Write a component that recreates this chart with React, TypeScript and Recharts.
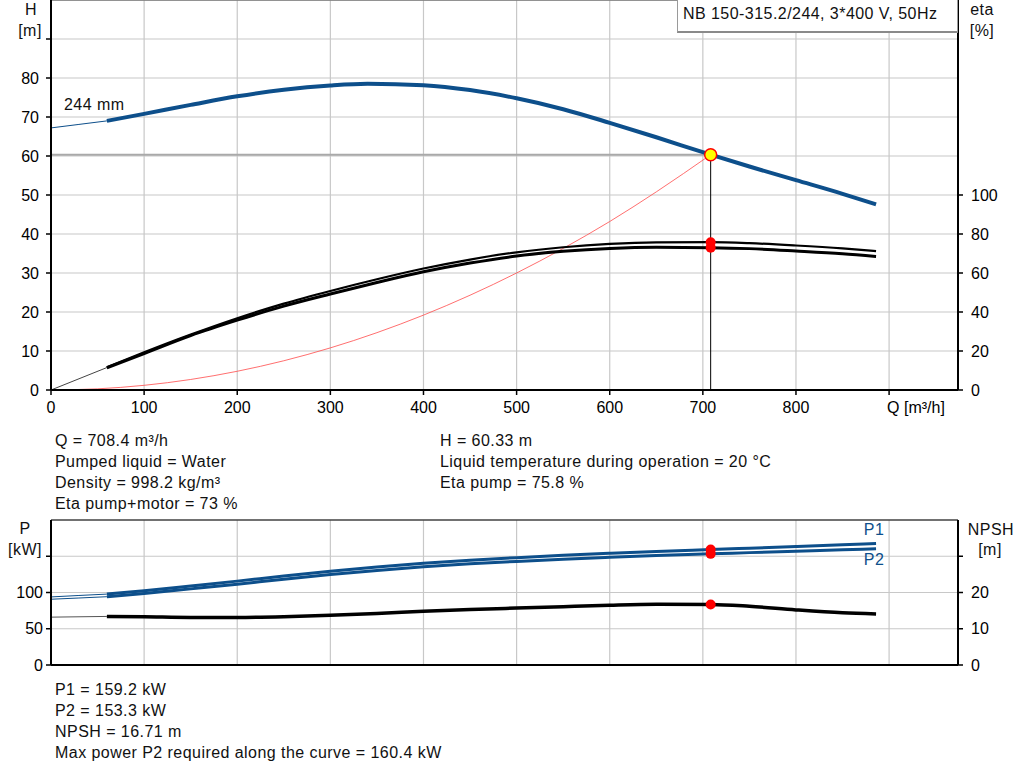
import React from "react";
import {
  ComposedChart,
  Line,
  XAxis,
  YAxis,
  CartesianGrid,
  ReferenceLine,
  ReferenceDot,
} from "recharts";

const FONT = '"Liberation Sans", Arial, sans-serif';
const FS = 16;
const LS = "0.45px";
const BLUE = "#0d4f8b";
const GRID = "#c8c8c8";

// axis ticks
const Q_MAX = 974;
const Q_TICKS = [0, 100, 200, 300, 400, 500, 600, 700, 800, 900];
const H_TICKS = [0, 10, 20, 30, 40, 50, 60, 70, 80, 90];
const ETA_TICKS = [0, 20, 40, 60, 80, 100];
const P_TICKS = [0, 50, 100, 150];
const NPSH_TICKS = [0, 10, 20, 30];

// operating point
const Q_OP = 708.4;
const H_OP = 60.33;
const ETA_PUMP_OP = 75.8;
const ETA_TOTAL_OP = 73;
const P1_OP = 159.2;
const P2_OP = 153.3;
const NPSH_OP = 16.71;

// head curve (thin start + main part)
const Q_H_START = [0, 30, 60];
const H_START = [67.2, 68.1, 69.0];
const Q_H = [60, 100, 150, 200, 250, 300, 340, 400, 450, 500, 550, 600, 650, 708.4, 750, 800, 850, 886];
const H_VALUES = [69.0, 70.8, 73.1, 75.3, 77.0, 78.1, 78.55, 78.15, 76.9, 74.8, 72.0, 68.5, 64.8, 60.33, 57.3, 53.8, 50.3, 47.6];

// system curve
const Q_SYS = [0, 50, 100, 150, 200, 250, 300, 350, 400, 450, 500, 550, 600, 650, 708.4];
const H_SYS = [0, 0.3, 1.2, 2.7, 4.8, 7.5, 10.8, 14.7, 19.2, 24.3, 30.0, 36.3, 43.2, 50.8, 60.33];

// efficiency curves
const Q_ETA_START = [0, 60];
const ETA_START = [0, 11.5];
const Q_ETA = [60, 100, 150, 200, 250, 300, 350, 400, 450, 500, 550, 600, 650, 708.4, 750, 800, 850, 886];
const ETA_PUMP = [11.6, 19.3, 28.4, 36.8, 44.3, 50.8, 56.8, 62.3, 66.9, 70.6, 73.2, 74.9, 75.7, 75.8, 75.3, 74.1, 72.6, 71.2];
const ETA_TOTAL = [11.4, 18.7, 27.9, 35.8, 43.0, 49.2, 55.1, 60.6, 65.1, 68.7, 71.1, 72.6, 73.2, 73.0, 72.5, 71.3, 69.9, 68.5];

// power curves
const Q_P_START = [0, 30, 60];
const P1_START = [93.9, 95.9, 97.8];
const P2_START = [90.7, 92.4, 94.2];
const Q_P = [60, 100, 150, 200, 250, 300, 350, 400, 450, 500, 550, 600, 650, 708.4, 750, 800, 850, 886];
const P1_VALUES = [97.8, 102.4, 109.0, 115.7, 122.7, 129.3, 135.2, 140.3, 144.5, 148.1, 151.3, 154.1, 156.7, 159.2, 161.1, 163.4, 165.7, 167.5];
const P2_VALUES = [94.2, 98.6, 105.0, 111.5, 118.3, 124.7, 130.4, 135.4, 139.5, 142.9, 146.0, 148.6, 151.0, 153.3, 155.0, 157.0, 158.9, 160.4];

// NPSH curve
const Q_NPSH_START = [0, 60];
const NPSH_START = [13.2, 13.4];
const Q_NPSH = [60, 100, 150, 200, 250, 300, 350, 400, 450, 500, 550, 600, 650, 708.4, 750, 800, 850, 886];
const NPSH_VALUES = [13.4, 13.3, 13.1, 13.1, 13.3, 13.7, 14.2, 14.8, 15.3, 15.7, 16.1, 16.5, 16.75, 16.71, 16.2, 15.2, 14.4, 14.1];

const zip = (xs: number[], ys: number[]) => xs.map((x, i) => ({ x, y: ys[i] }));

const makeYTick = (anchor: "start" | "end", hidden: number[]) => (props: any) => {
  const { x, y, payload } = props;
  if (hidden.includes(payload.value)) return <g />;
  return (
    <text x={x} y={y} dy="0.355em" textAnchor={anchor} fontSize={FS} fontFamily={FONT} fill="#000">
      {payload.value}
    </text>
  );
};

const QTick = (props: any) => {
  const { x, y, payload } = props;
  const last = payload.value === 900;
  return (
    <text
      x={last ? x - 2 : x}
      y={y}
      dy="0.71em"
      textAnchor={last ? "start" : "middle"}
      fontSize={FS}
      fontFamily={FONT}
      fill="#000"
    >
      {last ? "Q [m³/h]" : payload.value}
    </text>
  );
};

const NoTick = () => <g />;

const axisLine = { stroke: "#000", strokeWidth: 2 };
const tickLine = { stroke: "#000", strokeWidth: 1.5 };

const Txt = ({ x, y, children, center, color }: any) => (
  <div
    style={{
      position: "absolute",
      left: x,
      top: y - 9,
      lineHeight: "18px",
      fontSize: FS,
      letterSpacing: LS,
      fontFamily: FONT,
      color: color || "#111",
      whiteSpace: "nowrap",
      transform: center ? "translateX(-50%)" : undefined,
    }}
  >
    {children}
  </div>
);

const HeadChart = () => (
  <ComposedChart width={1024} height={420} margin={{ top: 0, right: 0, bottom: 0, left: 0 }}>
    <CartesianGrid xAxisId="q" yAxisId="h" stroke={GRID} strokeWidth={1.2} />
    <XAxis
      xAxisId="q"
      type="number"
      dataKey="x"
      domain={[0, Q_MAX]}
      ticks={Q_TICKS}
      interval={0}
      height={30}
      stroke="#000"
      axisLine={axisLine}
      tickLine={tickLine}
      tickSize={5}
      tickMargin={7}
      tick={QTick}
    />
    <YAxis
      yAxisId="h"
      type="number"
      domain={[0, 100]}
      ticks={H_TICKS}
      interval={0}
      width={51}
      stroke="#000"
      axisLine={axisLine}
      tickLine={tickLine}
      tickSize={5}
      tickMargin={7}
      tick={makeYTick("end", [90])}
    />
    <YAxis
      yAxisId="eta"
      orientation="right"
      type="number"
      domain={[0, 200]}
      ticks={ETA_TICKS}
      interval={0}
      width={66}
      stroke="#000"
      axisLine={axisLine}
      tickLine={tickLine}
      tickSize={5}
      tickMargin={8}
      tick={makeYTick("start", [])}
    />
    <ReferenceLine xAxisId="q" yAxisId="h" segment={[{ x: 0, y: 100 }, { x: Q_MAX, y: 100 }]} stroke="#777" strokeWidth={1.5} />
    <ReferenceLine
      xAxisId="q"
      yAxisId="h"
      segment={[{ x: 0, y: H_OP }, { x: Q_OP, y: H_OP }]}
      stroke="#a9a9a9"
      strokeWidth={2}
    />
    <ReferenceLine
      xAxisId="q"
      yAxisId="h"
      segment={[{ x: Q_OP, y: 0 }, { x: Q_OP, y: H_OP }]}
      stroke="#000"
      strokeWidth={1}
    />
    <Line xAxisId="q" yAxisId="h" data={zip(Q_SYS, H_SYS)} dataKey="y" type="monotone" stroke="#ff4a4a" strokeWidth={0.8} dot={false} isAnimationActive={false} />
    <Line xAxisId="q" yAxisId="eta" data={zip(Q_ETA_START, ETA_START)} dataKey="y" type="linear" stroke="#444" strokeWidth={1} dot={false} isAnimationActive={false} />
    <Line xAxisId="q" yAxisId="eta" data={zip(Q_ETA, ETA_PUMP)} dataKey="y" type="monotone" stroke="#000" strokeWidth={2.2} dot={false} isAnimationActive={false} />
    <Line xAxisId="q" yAxisId="eta" data={zip(Q_ETA, ETA_TOTAL)} dataKey="y" type="monotone" stroke="#000" strokeWidth={3} dot={false} isAnimationActive={false} />
    <Line xAxisId="q" yAxisId="h" data={zip(Q_H_START, H_START)} dataKey="y" type="monotone" stroke={BLUE} strokeWidth={1} dot={false} isAnimationActive={false} />
    <Line xAxisId="q" yAxisId="h" data={zip(Q_H, H_VALUES)} dataKey="y" type="monotone" stroke={BLUE} strokeWidth={4} dot={false} isAnimationActive={false} />
    <ReferenceDot xAxisId="q" yAxisId="eta" x={Q_OP} y={ETA_PUMP_OP} r={5} fill="#ff0000" stroke="none" />
    <ReferenceDot xAxisId="q" yAxisId="eta" x={Q_OP} y={ETA_TOTAL_OP} r={5} fill="#ff0000" stroke="none" />
    <ReferenceDot xAxisId="q" yAxisId="h" x={Q_OP} y={H_OP} r={6} fill="#ffff00" stroke="#ff0000" strokeWidth={1.5} />
  </ComposedChart>
);

const PowerChart = () => (
  <ComposedChart width={1024} height={165} margin={{ top: 10, right: 0, bottom: 0, left: 0 }}>
    <CartesianGrid xAxisId="q" yAxisId="p" stroke={GRID} strokeWidth={1.2} />
    <XAxis
      xAxisId="q"
      type="number"
      dataKey="x"
      domain={[0, Q_MAX]}
      ticks={Q_TICKS}
      interval={0}
      height={10}
      stroke="#000"
      axisLine={axisLine}
      tickLine={false}
      tick={NoTick}
    />
    <YAxis
      yAxisId="p"
      type="number"
      domain={[0, 200]}
      ticks={P_TICKS}
      interval={0}
      width={51}
      stroke="#000"
      axisLine={axisLine}
      tickLine={tickLine}
      tickSize={5}
      tickMargin={3}
      tick={makeYTick("end", [150])}
    />
    <YAxis
      yAxisId="npsh"
      orientation="right"
      type="number"
      domain={[0, 40]}
      ticks={NPSH_TICKS}
      interval={0}
      width={66}
      stroke="#000"
      axisLine={axisLine}
      tickLine={tickLine}
      tickSize={5}
      tickMargin={8}
      tick={makeYTick("start", [30])}
    />
    <ReferenceLine xAxisId="q" yAxisId="p" segment={[{ x: 0, y: 200 }, { x: Q_MAX, y: 200 }]} stroke="#000" strokeWidth={1.2} />
    <Line xAxisId="q" yAxisId="npsh" data={zip(Q_NPSH_START, NPSH_START)} dataKey="y" type="linear" stroke="#555" strokeWidth={1} dot={false} isAnimationActive={false} />
    <Line xAxisId="q" yAxisId="npsh" data={zip(Q_NPSH, NPSH_VALUES)} dataKey="y" type="monotone" stroke="#000" strokeWidth={3.5} dot={false} isAnimationActive={false} />
    <Line xAxisId="q" yAxisId="p" data={zip(Q_P_START, P1_START)} dataKey="y" type="monotone" stroke={BLUE} strokeWidth={1} dot={false} isAnimationActive={false} />
    <Line xAxisId="q" yAxisId="p" data={zip(Q_P_START, P2_START)} dataKey="y" type="monotone" stroke={BLUE} strokeWidth={1} dot={false} isAnimationActive={false} />
    <Line xAxisId="q" yAxisId="p" data={zip(Q_P, P1_VALUES)} dataKey="y" type="monotone" stroke={BLUE} strokeWidth={3} dot={false} isAnimationActive={false} />
    <Line xAxisId="q" yAxisId="p" data={zip(Q_P, P2_VALUES)} dataKey="y" type="monotone" stroke={BLUE} strokeWidth={3} dot={false} isAnimationActive={false} />
    <ReferenceDot xAxisId="q" yAxisId="p" x={Q_OP} y={P1_OP} r={5} fill="#ff0000" stroke="none" />
    <ReferenceDot xAxisId="q" yAxisId="p" x={Q_OP} y={P2_OP} r={5} fill="#ff0000" stroke="none" />
    <ReferenceDot xAxisId="q" yAxisId="npsh" x={Q_OP} y={NPSH_OP} r={5} fill="#ff0000" stroke="none" />
  </ComposedChart>
);

export default function App() {
  return (
    <div style={{ position: "absolute", left: 0, top: 0, width: 1024, height: 781, background: "#fff", fontFamily: FONT }}>
      <div style={{ position: "absolute", left: 0, top: 0 }}>
        <HeadChart />
      </div>
      <div style={{ position: "absolute", left: 0, top: 510 }}>
        <PowerChart />
      </div>

      {/* top chart labels */}
      <Txt x={31} y={10} center>H</Txt>
      <Txt x={30} y={31} center>[m]</Txt>
      <Txt x={982} y={10} center>eta</Txt>
      <Txt x={982} y={31} center>[%]</Txt>
      <Txt x={64} y={105}>244 mm</Txt>
      <div
        style={{
          position: "absolute",
          left: 677,
          top: 0,
          width: 279,
          height: 31,
          background: "#fff",
          borderLeft: "1px solid #9a9a9a",
          borderBottom: "2px solid #8a8a8a",
          borderRight: "1px solid #9a9a9a",
          boxSizing: "content-box",
        }}
      >
        <div style={{ position: "absolute", left: 5, top: 5, lineHeight: "18px", fontSize: FS, letterSpacing: LS, fontFamily: FONT, color: "#111", whiteSpace: "nowrap" }}>
          NB 150-315.2/244, 3*400 V, 50Hz
        </div>
      </div>

      {/* operating point text */}
      <Txt x={55} y={441}>Q = 708.4 m³/h</Txt>
      <Txt x={55} y={462}>Pumped liquid = Water</Txt>
      <Txt x={55} y={483}>Density = 998.2 kg/m³</Txt>
      <Txt x={55} y={504}>Eta pump+motor = 73 %</Txt>
      <Txt x={440} y={441}>H = 60.33 m</Txt>
      <Txt x={440} y={462}>Liquid temperature during operation = 20 °C</Txt>
      <Txt x={440} y={483}>Eta pump = 75.8 %</Txt>

      {/* bottom chart labels */}
      <Txt x={25} y={529} center>P</Txt>
      <Txt x={25} y={550} center>[kW]</Txt>
      <Txt x={991} y={530} center>NPSH</Txt>
      <Txt x={990} y={550} center>[m]</Txt>
      <Txt x={874} y={530} center color={BLUE}>P1</Txt>
      <Txt x={874} y={560} center color={BLUE}>P2</Txt>

      <Txt x={55} y={690}>P1 = 159.2 kW</Txt>
      <Txt x={55} y={711}>P2 = 153.3 kW</Txt>
      <Txt x={55} y={732}>NPSH = 16.71 m</Txt>
      <Txt x={55} y={753}>Max power P2 required along the curve = 160.4 kW</Txt>
    </div>
  );
}
